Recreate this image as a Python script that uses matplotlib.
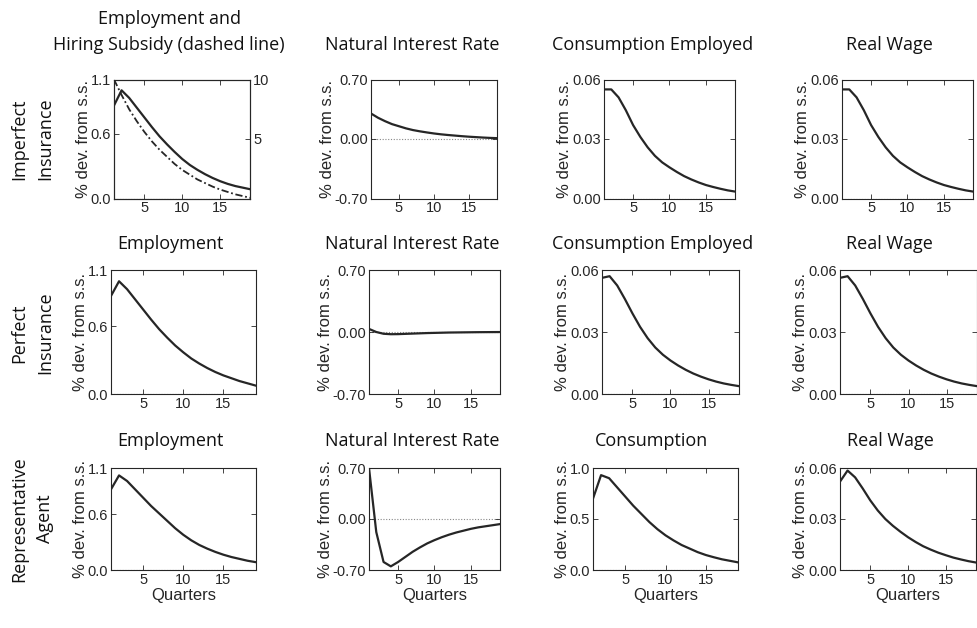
import matplotlib
matplotlib.use("Agg")
import matplotlib.pyplot as plt
import numpy as np

quarters = list(range(1, 20))

# Row 1: Imperfect Insurance
imp_employment = [0.86, 1.00, 0.93, 0.84, 0.75, 0.66, 0.575, 0.50, 0.43, 0.365,
                  0.31, 0.265, 0.225, 0.19, 0.16, 0.135, 0.115, 0.10, 0.085]
imp_subsidy = [10.0, 8.7, 7.5, 6.5, 5.6, 4.8, 4.1, 3.5, 2.9, 2.4,
               2.0, 1.6, 1.3, 1.0, 0.75, 0.55, 0.35, 0.2, 0.05]
imp_rate = [0.30, 0.25, 0.21, 0.175, 0.15, 0.125, 0.105, 0.09, 0.077, 0.065,
            0.055, 0.047, 0.04, 0.033, 0.027, 0.022, 0.017, 0.013, 0.01]
imp_cons = [0.055, 0.055, 0.051, 0.0445, 0.037, 0.031, 0.0258, 0.0215, 0.0182, 0.0157,
            0.0134, 0.0113, 0.0096, 0.0081, 0.0068, 0.0058, 0.0049, 0.0041, 0.0035]
imp_wage = [0.055, 0.055, 0.051, 0.0445, 0.037, 0.031, 0.0258, 0.0215, 0.0182, 0.0157,
            0.0134, 0.0113, 0.0096, 0.0081, 0.0068, 0.0058, 0.0049, 0.0041, 0.0035]

# Row 2: Perfect Insurance
per_employment = [0.87, 1.00, 0.93, 0.84, 0.75, 0.66, 0.575, 0.50, 0.43, 0.37,
                  0.315, 0.27, 0.23, 0.195, 0.165, 0.14, 0.115, 0.095, 0.075]
per_rate = [0.035, 0.0, -0.02, -0.025, -0.024, -0.021, -0.018, -0.015, -0.012, -0.01,
            -0.008, -0.006, -0.005, -0.004, -0.003, -0.002, -0.0015, -0.001, -0.0005]
per_cons = [0.0562, 0.057, 0.0525, 0.046, 0.039, 0.0325, 0.027, 0.0225, 0.019, 0.0162,
            0.0138, 0.0117, 0.0099, 0.0084, 0.0071, 0.006, 0.0051, 0.0044, 0.0038]
per_wage = [0.0562, 0.057, 0.0525, 0.046, 0.039, 0.0325, 0.027, 0.0225, 0.019, 0.0162,
            0.0138, 0.0117, 0.0099, 0.0084, 0.0071, 0.006, 0.0051, 0.0044, 0.0038]

# Row 3: Representative Agent
rep_employment = [0.87, 1.02, 0.96, 0.87, 0.78, 0.69, 0.61, 0.53, 0.45, 0.38,
                  0.32, 0.27, 0.23, 0.195, 0.165, 0.14, 0.12, 0.10, 0.085]
rep_rate = [0.70, -0.18, -0.59, -0.65, -0.59, -0.52, -0.45, -0.39, -0.335, -0.29,
            -0.25, -0.215, -0.185, -0.16, -0.135, -0.115, -0.10, -0.085, -0.07]
rep_cons = [0.70, 0.93, 0.90, 0.81, 0.72, 0.63, 0.55, 0.47, 0.40, 0.34,
            0.29, 0.245, 0.21, 0.175, 0.147, 0.125, 0.105, 0.09, 0.075]
rep_wage = [0.052, 0.0585, 0.0545, 0.048, 0.041, 0.035, 0.030, 0.026, 0.0225, 0.0193,
            0.0165, 0.014, 0.012, 0.0102, 0.0087, 0.0073, 0.0062, 0.0052, 0.0044]

row_labels = ["Imperfect\nInsurance", "Perfect\nInsurance", "Representative\nAgent"]
titles = [
    ["Employment and\nHiring Subsidy (dashed line)", "Natural Interest Rate",
     "Consumption Employed", "Real Wage"],
    ["Employment", "Natural Interest Rate", "Consumption Employed", "Real Wage"],
    ["Employment", "Natural Interest Rate", "Consumption", "Real Wage"],
]
data = [
    [imp_employment, imp_rate, imp_cons, imp_wage],
    [per_employment, per_rate, per_cons, per_wage],
    [rep_employment, rep_rate, rep_cons, rep_wage],
]
yticks = [
    [[0.0, 0.6, 1.1], [-0.7, 0.0, 0.7], [0.0, 0.03, 0.06], [0.0, 0.03, 0.06]],
    [[0.0, 0.6, 1.1], [-0.7, 0.0, 0.7], [0.0, 0.03, 0.06], [0.0, 0.03, 0.06]],
    [[0.0, 0.6, 1.1], [-0.7, 0.0, 0.7], [0.0, 0.5, 1.0], [0.0, 0.03, 0.06]],
]
ytick_labels = [
    [["0.0", "0.6", "1.1"], ["-0.70", "0.00", "0.70"], ["0.00", "0.03", "0.06"], ["0.00", "0.03", "0.06"]],
    [["0.0", "0.6", "1.1"], ["-0.70", "0.00", "0.70"], ["0.00", "0.03", "0.06"], ["0.00", "0.03", "0.06"]],
    [["0.0", "0.6", "1.1"], ["-0.70", "0.00", "0.70"], ["0.0", "0.5", "1.0"], ["0.00", "0.03", "0.06"]],
]
subsidy_ticks = [5, 10]
subsidy_tick_labels = ["5", "10"]
xticks = [5, 10, 15]

W, H = 978, 628
# (left, right, top, bottom) in pixels
positions = [
    [(114, 250.5, 79.5, 198.5), (371, 497, 79.5, 198.5), (604, 735, 79.5, 198.5), (842, 973, 79.5, 198.5)],
    [(111, 255.5, 270, 394), (369, 500, 270, 394), (602, 739, 270, 394), (840, 977, 270, 394)],
    [(111, 255.5, 468, 570), (369, 500, 468, 570), (593, 738, 468, 570), (840, 976, 468, 570)],
]
title_pos = [
    [(169, 32), (412, 45), (653, 45), (889, 45)],
    [(170, 244), (412, 244), (653, 244), (889, 244)],
    [(170, 441), (412, 441), (652, 441), (890, 441)],
]
row_label_pos = [(32, 139), (32, 333), (32, 519)]

TITLE_FONT = ["Open Sans", "DejaVu Sans"]
TICK_FONT = ["Liberation Sans", "DejaVu Sans"]
LINE_COLOR = "#262626"
TXT = "#262626"

fig = plt.figure(figsize=(W / 100, H / 100), dpi=100)
fig.patch.set_facecolor("white")


def style_axis(ax):
    for s in ax.spines.values():
        s.set_linewidth(0.8)
        s.set_color(LINE_COLOR)
    ax.tick_params(direction="in", length=3.5, width=0.6, colors=LINE_COLOR,
                   labelcolor=TXT, labelsize=10.5, pad=2)
    for lab in ax.get_xticklabels() + ax.get_yticklabels():
        lab.set_fontfamily(TICK_FONT)


for r in range(3):
    for c in range(4):
        l, rr, t, b = positions[r][c]
        ax = fig.add_axes([l / W, 1 - b / H, (rr - l) / W, (b - t) / H])
        ax.axhline(0, color="#888888", lw=0.8, ls=(0, (1, 1.5)), zorder=1)
        ax.plot(quarters, data[r][c], color=LINE_COLOR, lw=1.6, zorder=3)
        ax.set_xlim(1, 19)
        ax.set_ylim(yticks[r][c][0], yticks[r][c][-1])
        ax.set_xticks(xticks)
        ax.set_yticks(yticks[r][c])
        ax.set_yticklabels(ytick_labels[r][c])
        ax.set_xticklabels([str(x) for x in xticks])
        if r == 2:
            ax.set_xlabel("Quarters", fontsize=12, family=TICK_FONT, color=TXT, labelpad=1)
        ax.set_ylabel("% dev. from s.s.", fontsize=12, family=TICK_FONT, color=TXT, labelpad=0)
        ax.tick_params(top=True, right=(not (r == 0 and c == 0)))
        style_axis(ax)
        if r == 0 and c == 0:
            ax2 = ax.twinx()
            ax2.plot(quarters, imp_subsidy, color=LINE_COLOR, lw=1.3, ls=(0, (4, 1.5, 1, 1.5)), zorder=2)
            ax2.set_ylim(0, 10)
            ax2.set_yticks(subsidy_ticks)
            ax2.set_yticklabels(subsidy_tick_labels)
            style_axis(ax2)
        tx, ty = title_pos[r][c]
        fig.text(tx / W, 1 - ty / H, titles[r][c], ha="center", va="center",
                 fontsize=13, family=TITLE_FONT, color="#111111", linespacing=1.6)

for r in range(3):
    x, y = row_label_pos[r]
    fig.text(x / W, 1 - y / H, row_labels[r], ha="center", va="center", rotation=90,
             fontsize=13, family=TITLE_FONT, color="#111111", linespacing=1.6)

fig.savefig("out.png", dpi=100, facecolor="white")
